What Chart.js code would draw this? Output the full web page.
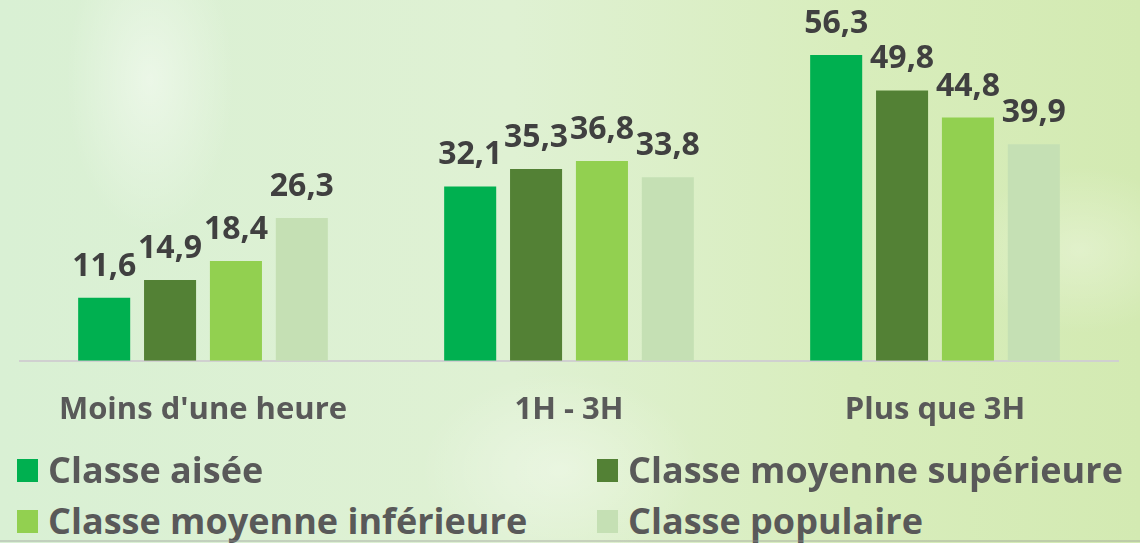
<!DOCTYPE html>
<html>
<head>
<meta charset="utf-8">
<script src="https://cdn.jsdelivr.net/npm/chart.js@4"></script>
<style>
    html, body { margin: 0; padding: 0; }
    body {
        width: 1140px; height: 543px; overflow: hidden; position: relative;
        font-family: 'Open Sans', sans-serif;
        background:
            radial-gradient(ellipse 120px 220px at 150px 80px, rgba(255,255,255,0.45), rgba(255,255,255,0) 70%),
            radial-gradient(ellipse 200px 140px at 560px 470px, rgba(255,255,255,0.35), rgba(255,255,255,0) 70%),
            radial-gradient(ellipse 160px 120px at 1080px 250px, rgba(255,255,255,0.3), rgba(255,255,255,0) 70%),
            linear-gradient(90deg, #d9f0d4 0%, #dff1d3 45%, #d8edbc 75%, #d3eab2 100%);
    }
    #wrap { position: absolute; left: 0; top: 0; width: 1140px; height: 452px; }
    #legend { position: absolute; left: 0; top: 448px; width: 1140px; }
    .item { position: absolute; display: flex; align-items: center; font-weight: 700;
            font-size: 36px; color: #595959; white-space: nowrap; line-height: 44px; }
    .box { width: 21px; height: 23px; margin-right: 10px; }
    #edge { position: absolute; left: 0; right: 0; bottom: 1px; height: 2px; background: rgba(150,150,150,0.35); }
</style>
</head>
<body>
<div id="wrap"><canvas id="chart"></canvas></div>
<div id="legend"></div>
<div id="edge"></div>
<script>
const categories = ["Moins d'une heure", '1H - 3H', 'Plus que 3H'];
const seriesNames = ['Classe aisée', 'Classe moyenne supérieure', 'Classe moyenne inférieure', 'Classe populaire'];
const aisee      = [11.6, 32.1, 56.3];
const moySup     = [14.9, 35.3, 49.8];
const moyInf     = [18.4, 36.8, 44.8];
const populaire  = [26.3, 33.8, 39.9];
const colors = ['#00b050', '#538135', '#92d050', '#c5e0b4'];

const fmt = v => v.toFixed(1).replace('.', ',');

const valueLabels = {
    id: 'valueLabels',
    afterDatasetsDraw(chart) {
        const { ctx } = chart;
        ctx.save();
        ctx.font = "700 32px 'Open Sans'";
        ctx.fillStyle = '#404040';
        ctx.textAlign = 'center';
        ctx.textBaseline = 'alphabetic';
        chart.data.datasets.forEach((ds, i) => {
            chart.getDatasetMeta(i).data.forEach((bar, j) => {
                ctx.fillText(fmt(ds.data[j]), bar.x, bar.y - 22);
            });
        });
        ctx.restore();
    },
};

const chart = new Chart(document.getElementById('chart'), {
    type: 'bar',
    data: {
        labels: categories,
        datasets: [aisee, moySup, moyInf, populaire].map((d, i) => ({
            label: seriesNames[i],
            data: d,
            backgroundColor: colors[i],
            categoryPercentage: 0.72,
            barPercentage: 0.79,
        })),
    },
    options: {
        responsive: true,
        maintainAspectRatio: false,
        animation: false,
        layout: { padding: { left: 20, right: 22, top: 35, bottom: 0 } },
        plugins: { legend: { display: false }, tooltip: { enabled: false } },
        scales: {
            x: {
                grid: { display: false },
                border: { color: '#d0d0d0', width: 2 },
                ticks: { color: '#595959', font: { family: 'Open Sans', size: 31, weight: '700' }, padding: 23 },
            },
            y: { display: false, min: 0, max: 60 },
        },
    },
    plugins: [valueLabels],
});

// legend in two columns
const legend = document.getElementById('legend');
const pos = [[17, 22], [597, 22], [17, 73], [597, 73]];
seriesNames.forEach((name, i) => {
    const el = document.createElement('div');
    el.className = 'item';
    el.style.left = pos[i][0] + 'px';
    el.style.top = (pos[i][1] - 22) + 'px';
    el.innerHTML = `<span class="box" style="background:${colors[i]}"></span>${name}`;
    legend.appendChild(el);
});
</script>
</body>
</html>
